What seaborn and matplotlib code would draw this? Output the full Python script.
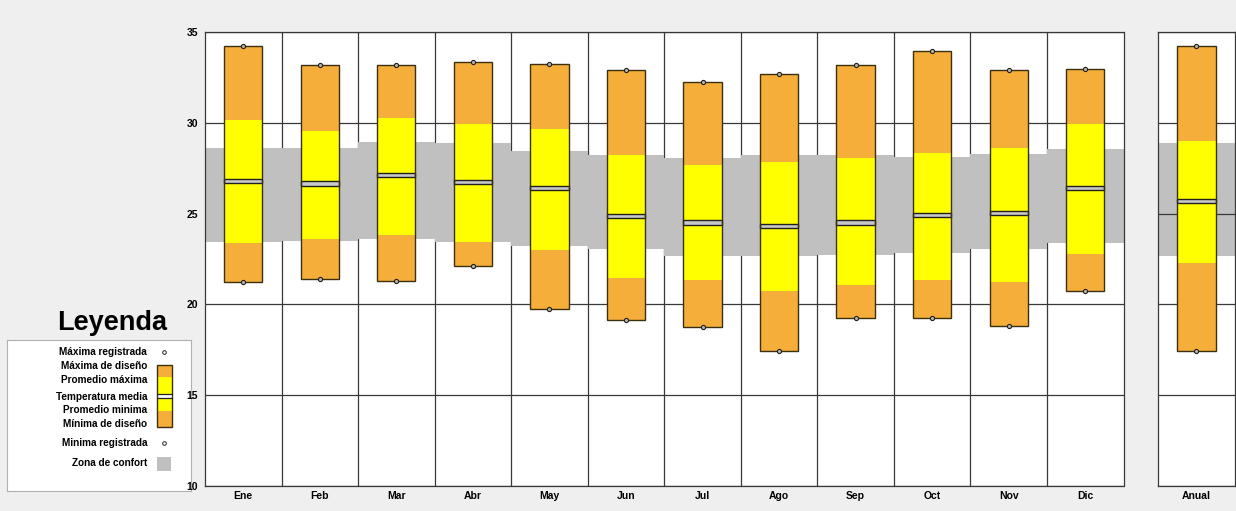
import numpy as np
import pandas as pd
import matplotlib
matplotlib.use('Agg')
import matplotlib.pyplot as plt
from matplotlib.patches import Rectangle
import seaborn as sns

meses = ['Ene', 'Feb', 'Mar', 'Abr', 'May', 'Jun', 'Jul', 'Ago', 'Sep', 'Oct', 'Nov', 'Dic']
max_reg = [34.26, 33.18, 33.18, 33.38, 33.25, 32.90, 32.26, 32.70, 33.18, 33.99, 32.90, 32.99]
max_dis = [34.26, 33.18, 33.18, 33.38, 33.25, 32.90, 32.26, 32.70, 33.18, 33.99, 32.90, 32.99]
prom_max = [30.17, 29.56, 30.28, 29.94, 29.67, 28.25, 27.70, 27.85, 28.05, 28.35, 28.62, 29.96]
t_media = [26.80, 26.66, 27.13, 26.73, 26.40, 24.87, 24.52, 24.32, 24.52, 24.93, 25.05, 26.41]
prom_min = [23.40, 23.59, 23.81, 23.42, 22.98, 21.43, 21.32, 20.72, 21.06, 21.34, 21.25, 22.77]
min_dis = [21.23, 21.41, 21.29, 22.10, 19.76, 19.12, 18.73, 17.44, 19.23, 19.23, 18.82, 20.73]
min_reg = [21.23, 21.41, 21.29, 22.10, 19.76, 19.12, 18.73, 17.44, 19.23, 19.23, 18.82, 20.73]
confort_sup = [28.60, 28.60, 28.93, 28.90, 28.47, 28.24, 28.09, 28.24, 28.24, 28.12, 28.27, 28.57]
confort_inf = [23.45, 23.51, 23.60, 23.42, 23.22, 23.05, 22.66, 22.66, 22.72, 22.85, 23.07, 23.36]

anual = ['Anual']
anual_max_reg = [34.27]
anual_max_dis = [34.27]
anual_prom_max = [29.01]
anual_media = [25.70]
anual_prom_min = [22.30]
anual_min_dis = [17.43]
anual_min_reg = [17.43]
anual_conf_sup = [28.92]
anual_conf_inf = [22.66]

NARANJA = '#F5AE3A'
AMARILLO = '#FFFF00'
GRIS = '#C0C0C0'
BORDE = '#3a3010'
LINEA = '#383838'
FONDO = '#EFEFEF'
FUENTE = ['Liberation Sans', 'DejaVu Sans']

sns.set_style('white')
plt.rcParams['font.family'] = FUENTE
plt.rcParams['font.weight'] = 'bold'
plt.rcParams['text.color'] = 'black'
plt.rcParams['xtick.color'] = 'black'
plt.rcParams['ytick.color'] = 'black'


def dibujar(ax, cats, mx_r, mx_d, p_max, media, p_min, mn_d, mn_r, c_sup, c_inf, conf_z):
    df = pd.DataFrame({'cat': cats, 'mx_r': mx_r, 'mx_d': mx_d, 'p_max': p_max,
                       'media': media, 'p_min': p_min, 'mn_d': mn_d, 'mn_r': mn_r,
                       'c_sup': c_sup, 'c_inf': c_inf})
    # zona de confort
    sns.barplot(data=df, x='cat', y=df['c_sup'] - df['c_inf'], bottom=df['c_inf'],
                order=cats, width=1.0, color=GRIS, linewidth=0, zorder=conf_z,
                saturation=1, ax=ax)
    # maxima / minima de diseño (naranja)
    sns.barplot(data=df, x='cat', y=df['mx_d'] - df['mn_d'], bottom=df['mn_d'],
                order=cats, width=0.5, color=NARANJA, linewidth=0,
                zorder=2, saturation=1, ax=ax)
    # promedios (amarillo)
    sns.barplot(data=df, x='cat', y=df['p_max'] - df['p_min'], bottom=df['p_min'],
                order=cats, width=0.5, color=AMARILLO, linewidth=0,
                zorder=3, saturation=1, ax=ax)
    # temperatura media
    sns.barplot(data=df, x='cat', y=[0.24] * len(cats), bottom=df['media'] - 0.12,
                order=cats, width=0.5, color='#C8C8C8', edgecolor='#202020',
                linewidth=1.0, zorder=4, saturation=1, ax=ax)
    # contorno de la barra
    sns.barplot(data=df, x='cat', y=df['mx_d'] - df['mn_d'], bottom=df['mn_d'],
                order=cats, width=0.5, color=BORDE, fill=False, edgecolor=BORDE,
                linewidth=1.0, zorder=5, ax=ax)
    # registros
    for col in ['mx_r', 'mn_r']:
        sns.stripplot(data=df, x='cat', y=col, order=cats, jitter=False, size=3.0,
                      color='#B8B8A8', edgecolor='#202020', linewidth=0.8,
                      zorder=6, ax=ax)
    ax.set_xlim(-0.5, len(cats) - 0.5)
    ax.set_ylim(10, 35)
    ax.set_xlabel('')
    ax.set_ylabel('')
    ax.set_facecolor('white')
    for s in ax.spines.values():
        s.set_color(LINEA)
        s.set_linewidth(0.9)
        s.set_zorder(7)
    ax.tick_params(length=0, labelsize=7.5)
    for lbl in ax.get_xticklabels():
        lbl.set_fontweight('bold')


fig = plt.figure(figsize=(12.36, 5.11), dpi=100)
fig.patch.set_facecolor(FONDO)

# Leyenda (debajo de los ejes)
axl = fig.add_axes([7 / 1236, 20 / 511, 184 / 1236, 151 / 511])
axl.set_zorder(0)

ax = fig.add_axes([205 / 1236, 25.3 / 511, 918.5 / 1236, 453.4 / 511])
ax2 = fig.add_axes([1157.7 / 1236, 25.3 / 511, 77.3 / 1236, 453.4 / 511])
ax.set_zorder(1)
ax2.set_zorder(1)

dibujar(ax, meses, max_reg, max_dis, prom_max, t_media, prom_min, min_dis, min_reg,
        confort_sup, confort_inf, 1)
dibujar(ax2, anual, anual_max_reg, anual_max_dis, anual_prom_max, anual_media,
        anual_prom_min, anual_min_dis, anual_min_reg, anual_conf_sup, anual_conf_inf, 0.2)

for a in [ax, ax2]:
    a.set_axisbelow(True)
    a.set_yticks([10, 15, 20, 25, 30, 35])
    a.grid(axis='y', color=LINEA, linewidth=0.9)
    a.tick_params(axis='x', pad=4)
ax.set_xticks(np.arange(0.5, 11.5, 1), minor=True)
ax.grid(axis='x', which='minor', color=LINEA, linewidth=0.9)
ax.grid(axis='x', which='major', visible=False)
ax.tick_params(axis='y', pad=5)
for lbl in ax.get_yticklabels():
    lbl.set_fontweight('bold')
ax2.set_yticklabels([])

fig.text(112 / 1236, 1 - 323 / 511, 'Leyenda', fontsize=19.5, fontweight='bold',
         ha='center', va='center', family=FUENTE, color='black')
axl.set_xlim(0, 184)
axl.set_ylim(151, 0)
axl.set_xticks([])
axl.set_yticks([])
axl.set_facecolor('white')
for s in axl.spines.values():
    s.set_color('#B0B0B0')
    s.set_linewidth(0.8)

textos = ['Máxima registrada', 'Máxima de diseño', 'Promedio máxima', 'Temperatura media',
          'Promedio minima', 'Mínima de diseño', 'Minima registrada', 'Zona de confort']
ys = [11.7, 26, 40, 56.7, 70, 84, 102.7, 123.3]
for t, yy in zip(textos, ys):
    axl.text(140, yy, t, fontsize=7.2, fontweight='bold', ha='right', va='center')

gx, gw = 150, 14.5
for y0, y1, c in [(25.3, 37, NARANJA), (37, 54, AMARILLO), (54, 58, 'white'),
                  (58, 71, AMARILLO), (71, 86.7, NARANJA)]:
    axl.add_patch(Rectangle((gx, y0), gw, y1 - y0, facecolor=c, edgecolor='none'))
axl.plot([gx, gx + gw], [54, 54], color='#202020', linewidth=0.9)
axl.plot([gx, gx + gw], [58, 58], color='#202020', linewidth=0.9)
axl.add_patch(Rectangle((gx, 25.3), gw, 61.4, facecolor='none', edgecolor=BORDE,
                        linewidth=1.0))
axl.plot([157, 157], [11.7, 102.7], 'o', markersize=2.6, markerfacecolor='white',
         markeredgecolor='#202020', markeredgewidth=0.7)
axl.add_patch(Rectangle((150, 117), 14, 14, facecolor=GRIS, edgecolor='none'))

plt.savefig('out.png', dpi=100, facecolor=fig.get_facecolor())
